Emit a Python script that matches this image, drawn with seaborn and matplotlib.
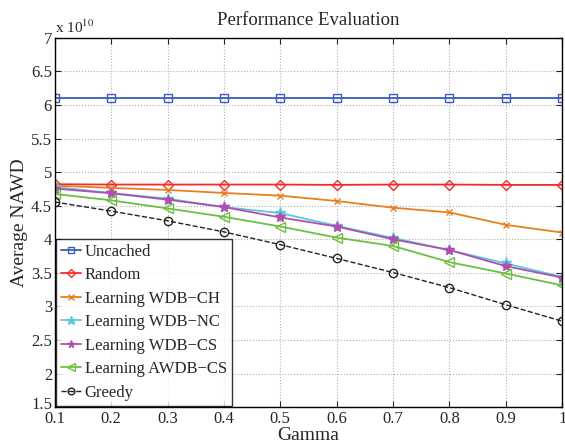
import numpy as np
import pandas as pd
import seaborn as sns
import matplotlib.pyplot as plt
import matplotlib.transforms as mtransforms

# valores (unidade: 1e10)
gamma = [0.1, 0.2, 0.3, 0.4, 0.5, 0.6, 0.7, 0.8, 0.9, 1.0]
uncached = [6.1, 6.1, 6.1, 6.1, 6.1, 6.1, 6.1, 6.1, 6.1, 6.1]
random_ = [4.82, 4.815, 4.815, 4.815, 4.815, 4.81, 4.815, 4.815, 4.81, 4.81]
wdb_ch = [4.80, 4.765, 4.735, 4.69, 4.65, 4.57, 4.47, 4.40, 4.215, 4.10]
wdb_nc = [4.78, 4.69, 4.605, 4.48, 4.39, 4.20, 4.02, 3.84, 3.64, 3.44]
wdb_cs = [4.755, 4.685, 4.59, 4.48, 4.325, 4.19, 4.0, 3.84, 3.60, 3.43]
awdb_cs = [4.675, 4.58, 4.46, 4.335, 4.19, 4.025, 3.90, 3.66, 3.49, 3.315]
greedy = [4.555, 4.42, 4.275, 4.11, 3.92, 3.715, 3.505, 3.28, 3.025, 2.78]

series = {
    'Uncached': uncached,
    'Random': random_,
    'Learning WDB\u2212CH': wdb_ch,
    'Learning WDB\u2212NC': wdb_nc,
    'Learning WDB\u2212CS': wdb_cs,
    'Learning AWDB\u2212CS': awdb_cs,
    'Greedy': greedy,
}
cores = ['#3a5cb8', '#f52a2a', '#e8801e', '#5ec8e0', '#b04fb0', '#6cc040', '#222222']
marcadores = ['s', 'D', 'x', '*', '*', '<', 'o']
tamanhos = [6, 5, 5, 8, 7, 7, 6]

sns.set_style('ticks')
plt.rcParams['font.family'] = ['Liberation Serif', 'DejaVu Serif']
plt.rcParams['mathtext.fontset'] = 'stix'

fig = plt.figure(figsize=(5.65, 4.45), dpi=100)
ax = fig.add_axes([0.097, 0.085, 0.898, 0.83])

for i, (nome, vals) in enumerate(series.items()):
    df = pd.DataFrame({'Gamma': gamma, 'NAWD': vals})
    filled = marcadores[i] in ('x', '*')
    sns.lineplot(data=df, x='Gamma', y='NAWD', ax=ax, color=cores[i], label=nome,
                 marker=marcadores[i], markersize=tamanhos[i],
                 markerfacecolor=cores[i] if filled else 'none', markeredgecolor=cores[i],
                 markeredgewidth=1.0, linewidth=1.3 if i < 6 else 1.0,
                 linestyle='--' if nome == 'Greedy' else '-')

ax.set_xlim(0.1, 1.0)
ax.set_ylim(1.5, 7)
ax.set_xticks(np.arange(0.1, 1.01, 0.1))
ax.set_xticklabels(['0.1', '0.2', '0.3', '0.4', '0.5', '0.6', '0.7', '0.8', '0.9', '1'])
ax.set_yticks(np.arange(1.5, 7.01, 0.5))
ax.set_yticklabels(['1.5', '2', '2.5', '3', '3.5', '4', '4.5', '5', '5.5', '6', '6.5', '7'])
ax.tick_params(direction='in', labelsize=12, top=True, right=True, length=4, pad=2)
ax.tick_params(axis='x', pad=3)
ax.grid(True, linestyle=':', color='#b0b0b0', linewidth=0.8)
for s in ax.spines.values():
    s.set_linewidth(1.0)
    s.set_color('black')

# o "1.5" fica um pouco acima, como no original
lbl = ax.get_yticklabels()[0]
lbl.set_transform(lbl.get_transform() + mtransforms.ScaledTranslation(0, 4 / 100, fig.dpi_scale_trans))

ax.set_title('Performance Evaluation', fontsize=13.5, pad=9)
ax.set_xlabel('Gamma', fontsize=14, labelpad=0)
ax.set_ylabel('Average NAWD', fontsize=14, labelpad=2)
ax.text(0.0, 1.005, 'x 10$^{10}$', transform=ax.transAxes, fontsize=11, va='bottom', ha='left')

leg = ax.legend(loc='lower left', fontsize=12, frameon=True, fancybox=False,
                borderaxespad=0.1, handlelength=1.2, handletextpad=0.2,
                labelspacing=0.45, borderpad=0.3, markerscale=0.8)
leg.get_frame().set_edgecolor('black')
leg.get_frame().set_linewidth(1.0)

plt.savefig('out.png', dpi=100)
